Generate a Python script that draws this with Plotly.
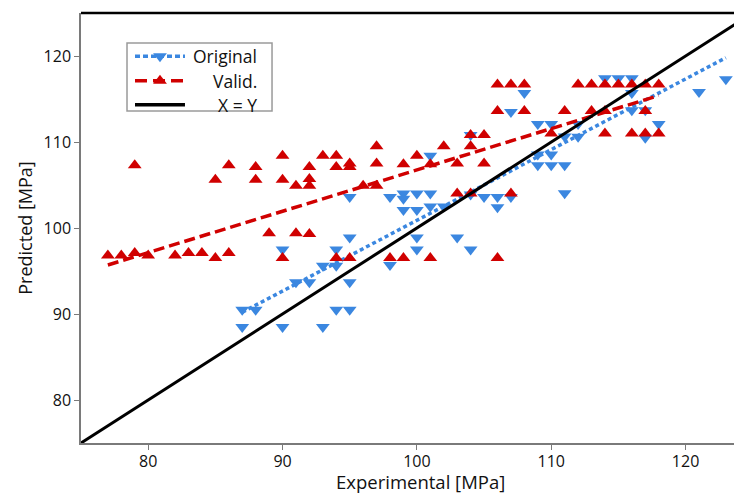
import plotly.graph_objects as go

# Original (blue, triangle-down)
orig_x = [87, 87, 88, 90, 90, 91, 92, 93, 93, 94, 94, 94, 95, 95, 95, 95,
          98, 98, 99, 99, 99, 100, 100, 100, 100, 101, 101, 101, 102, 103,
          104, 104, 104, 105, 106, 106, 107, 107, 108, 109, 109, 109, 110,
          110, 110, 111, 111, 111, 112, 112, 114, 115, 116, 116, 116, 117,
          117, 118, 121, 123]
orig_y = [90.5, 88.5, 90.5, 97.5, 88.5, 93.7, 93.7, 95.6, 88.5, 97.5, 95.6,
          90.5, 103.6, 98.9, 93.7, 90.5, 103.6, 95.7, 104.0, 103.4, 102.1,
          104.0, 102.1, 98.9, 97.5, 104.0, 102.5, 108.4, 102.5, 98.9, 97.5,
          110.8, 103.9, 103.6, 103.6, 102.4, 103.6, 113.5, 115.7, 112.1,
          108.55, 107.3, 112.1, 108.55, 107.3, 110.65, 107.3, 104.05, 112.1,
          110.6, 117.4, 117.4, 117.4, 115.7, 113.7, 113.7, 110.5, 112.1,
          115.8, 117.3]

# Validation (red, triangle-up)
valid_x = [77, 78, 79, 79, 80, 82, 83, 84, 85, 85, 86, 86, 88, 88, 89, 90,
           90, 90, 91, 91, 92, 92, 92, 92, 93, 94, 94, 94, 95, 95, 95, 96,
           97, 97, 97, 98, 99, 99, 100, 101, 101, 102, 103, 103, 104, 104,
           104, 105, 105, 106, 106, 106, 107, 107, 108, 108, 110, 111, 112,
           113, 113, 114, 114, 114, 115, 116, 116, 117, 117, 117, 118, 118]
valid_y = [96.8, 96.8, 97.1, 107.3, 96.8, 96.8, 97.1, 97.1, 96.5, 105.6,
           97.1, 107.3, 107.1, 105.6, 99.4, 108.4, 105.6, 96.5, 104.9, 99.4,
           107.1, 105.7, 104.9, 99.3, 108.4, 108.4, 107.1, 96.5, 107.5,
           107.1, 96.5, 104.9, 109.5, 107.5, 104.9, 96.5, 107.4, 96.5, 108.4,
           107.4, 96.5, 109.5, 107.5, 104.0, 110.8, 109.5, 104.0, 110.8,
           107.5, 96.5, 113.6, 116.7, 116.7, 104.0, 116.7, 113.6, 111.0,
           113.6, 116.7, 116.7, 113.6, 116.7, 113.6, 111.0, 116.7, 116.7,
           111.0, 116.7, 113.6, 111.0, 116.7, 111.0]

# Trend lines (end points, in MPa)
orig_fit_x = [87, 123]
orig_fit_y = [90.2, 119.8]
valid_fit_x = [77, 118]
valid_fit_y = [95.7, 115.4]

# Identity line X = Y
identity = [75, 125]

x_ticks = [80, 90, 100, 110, 120]
y_ticks = [80, 90, 100, 110, 120]
x_range = [75, 124.2]
y_range = [75, 125]

legend_labels = ["Original", "Valid.", "X = Y"]

BLUE = "#3B87E0"
RED = "#D00000"
FONT = "Open Sans"
TXT = "#111111"

BLUE_DASH = "4px,3px"
RED_DASH = "11px,5px"

fig = go.Figure()

# ---- data ----
fig.add_trace(go.Scatter(x=orig_x, y=orig_y, mode="markers", name="Original",
                         marker=dict(symbol="triangle-down", size=12, color=BLUE),
                         showlegend=False))
fig.add_trace(go.Scatter(x=orig_fit_x, y=orig_fit_y, mode="lines",
                         line=dict(color=BLUE, width=3.5, dash=BLUE_DASH),
                         showlegend=False, hoverinfo="skip"))
fig.add_trace(go.Scatter(x=valid_x, y=valid_y, mode="markers", name="Valid.",
                         marker=dict(symbol="triangle-up", size=12, color=RED),
                         showlegend=False))
fig.add_trace(go.Scatter(x=valid_fit_x, y=valid_fit_y, mode="lines",
                         line=dict(color=RED, width=3.5, dash=RED_DASH),
                         showlegend=False, hoverinfo="skip"))
fig.add_trace(go.Scatter(x=identity, y=identity, mode="lines", name="X = Y",
                         line=dict(color="black", width=3),
                         showlegend=False, hoverinfo="skip"))

# ---- legend key (positions given as plot-area fractions) ----
LX0, LX1, LY0, LY1 = 0.0696, 0.289, 0.772, 0.930
SX0, SXM, SX1 = 0.0817, 0.1195, 0.1573
ROWS = [0.8993, 0.8426, 0.7867]
TX = 0.270


def fx(f):
    return x_range[0] + f * (x_range[1] - x_range[0])


def fy(f):
    return y_range[0] + f * (y_range[1] - y_range[0])


styles = [
    dict(color=BLUE, dash="5px,3px", symbol="triangle-down"),
    dict(color=RED, dash="12px,6px", symbol="triangle-up"),
    dict(color="black", dash="solid", symbol=None),
]
shapes = [
    dict(type="line", xref="paper", yref="paper", x0=0, x1=1, y0=1, y1=1,
         line=dict(color="black", width=2.5)),
    dict(type="rect", xref="paper", yref="paper", x0=LX0, x1=LX1,
         y0=LY0, y1=LY1, layer="below", fillcolor="white",
         line=dict(color="#9a9a9a", width=1.5)),
]
for row, st in zip(ROWS, styles):
    shapes.append(dict(type="line", xref="paper", yref="paper",
                       x0=SX0, x1=SX1, y0=row, y1=row, layer="above",
                       line=dict(color=st["color"], width=3.5, dash=st["dash"])))
    if st["symbol"]:
        fig.add_trace(go.Scatter(x=[fx(SXM)], y=[fy(row)], mode="markers",
                                 showlegend=False, hoverinfo="skip",
                                 cliponaxis=False,
                                 marker=dict(symbol=st["symbol"], size=12,
                                             color=st["color"])))

annotations = [dict(text=lab, xref="paper", yref="paper", x=TX, y=row,
                    xanchor="right", yanchor="middle", showarrow=False,
                    font=dict(family=FONT, size=17.5, color=TXT))
               for lab, row in zip(legend_labels, ROWS)]
annotations.append(dict(text="Experimental [MPa]", xref="paper", yref="paper",
                        x=0.513, y=-0.089, xanchor="center", yanchor="middle",
                        showarrow=False,
                        font=dict(family=FONT, size=18.5, color=TXT)))

axis_common = dict(
    showgrid=False, zeroline=False, showline=True, linecolor="#7a7a7a",
    linewidth=1.5, ticks="outside", ticklen=5, tickwidth=1.2,
    tickcolor="#7a7a7a", tickfont=dict(family=FONT, size=16, color=TXT),
    mirror=False, automargin=False,
)

fig.update_layout(
    width=734, height=487,
    margin=dict(l=73, r=0, t=5, b=52),
    paper_bgcolor="white", plot_bgcolor="white",
    font=dict(family=FONT, color=TXT),
    showlegend=False,
    xaxis=dict(range=x_range, tickvals=x_ticks, ticklabelstandoff=-2,
               **axis_common),
    yaxis=dict(range=y_range, tickvals=y_ticks,
               title=dict(text="Predicted [MPa]",
                          font=dict(family=FONT, size=18, color=TXT),
                          standoff=6),
               **axis_common),
    annotations=annotations,
    shapes=shapes,
)

fig.write_html("out.html")
